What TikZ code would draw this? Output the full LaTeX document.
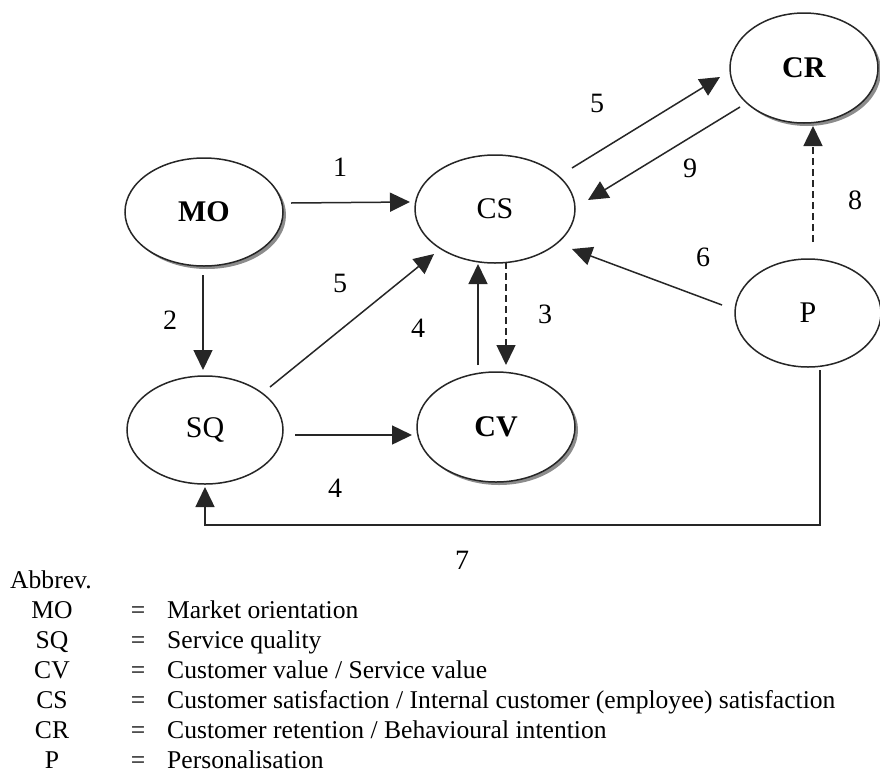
\documentclass[tikz,border=0pt]{standalone}
\usepackage{fontspec}
\setmainfont{Liberation Serif}
\usetikzlibrary{shapes.geometric,arrows.meta,calc,shadows}
\begin{document}
\begin{tikzpicture}[x=1pt,y=-1pt,
  ink/.style={draw=black!85,line width=1.5pt},
  ell/.style={ellipse,ink,fill=white,inner sep=0pt,font=\fontsize{30}{34}\selectfont},
  shadowed/.style={drop shadow={shadow xshift=3pt,shadow yshift=-3pt,fill=black!45,opacity=1}},
  arr/.style={ink,-{Triangle[length=20pt,width=19pt]}},
  darr/.style={arr,dash pattern=on 7pt off 4pt},
  lbl/.style={font=\fontsize{28}{32}\selectfont,inner sep=0pt},
  leg/.style={font=\fontsize{25.6}{28}\selectfont,inner sep=0pt,text height=17pt,text depth=5pt}
]
\useasboundingbox[fill=white] (0,0) rectangle (880,782);

% constructs
\node[ell,shadowed,minimum width=158pt,minimum height=108pt] (MO) at (204,212) {\textbf{MO}};
\node[ell,minimum width=160pt,minimum height=108pt] (CS) at (495,209) {CS};
\node[ell,shadowed,minimum width=148pt,minimum height=110pt] (CR) at (804,68) {\textbf{CR}};
\node[ell,minimum width=146pt,minimum height=108pt] (P) at (808,313) {P};
\node[ell,minimum width=156pt,minimum height=108pt] (SQ) at (205,430) {SQ};
\node[ell,shadowed,minimum width=158pt,minimum height=110pt] (CV) at (496,427) {\textbf{CV}};

% relationships
\draw[arr] ($(MO)+(87,-9)$) -- ($(CS)+(-85,-7)$);
\draw[arr] ($(MO)+(-1,63)$) -- ($(SQ)+(-2,-60)$);
\draw[arr] ($(SQ)+(65,-43)$) -- ($(CS)+(-61,45)$);
\draw[arr] ($(CV)+(-18,-62)$) -- ($(CS)+(-17,55)$);
\draw[darr] ($(CS)+(11,53)$) -- ($(CV)+(10,-62)$);
\draw[arr] ($(SQ)+(90,5)$) -- ($(CV)+(-84,8)$);
\draw[arr] ($(CS)+(77,-41)$) -- ($(CR)+(-84,9)$);
\draw[arr] ($(CR)+(-64,39)$) -- ($(CS)+(93,-9)$);
\draw[arr] ($(P)+(-86,-8)$) -- ($(CS)+(77,40)$);
\draw[darr] ($(P)+(5,-71)$) -- ($(CR)+(9,58)$);
\coordinate (pdown) at ($(P)+(12,212)$);
\draw[arr] ($(P)+(12,57)$) -- (pdown) -- (pdown -| SQ) -- ($(SQ)+(0,57)$);

% path numbers
\node[lbl] (n1) at (340,167) {1};
\node[lbl] (n2) at (170,320) {2};
\node[lbl] (n5a) at (340,283) {5};
\node[lbl] (n4a) at (418,328) {4};
\node[lbl] (n3) at (545,314) {3};
\node[lbl] (n4b) at (335,488) {4};
\node[lbl] (n7) at (462,560) {7};
\node[lbl] (n5b) at (597,103) {5};
\node[lbl] (n9) at (690,168) {9};
\node[lbl] (n6) at (703,257) {6};
\node[lbl] (n8) at (855,200) {8};

% abbreviations
\node[leg,anchor=west] (ab) at (10,582) {Abbrev.};
\foreach \k/\t/\y in {MO/{Market orientation}/612,
                      SQ/{Service quality}/642,
                      CV/{Customer value / Service value}/672,
                      CS/{Customer satisfaction / Internal customer (employee) satisfaction}/702,
                      CR/{Customer retention / Behavioural intention}/732,
                      P/{Personalisation}/762}{
  \node[leg] (k\k) at (52,\y) {\k};
  \node[leg] (e\k) at (138,\y) {=};
  \node[leg,anchor=west] (d\k) at (167,\y) {\t};
}
\end{tikzpicture}
\end{document}
